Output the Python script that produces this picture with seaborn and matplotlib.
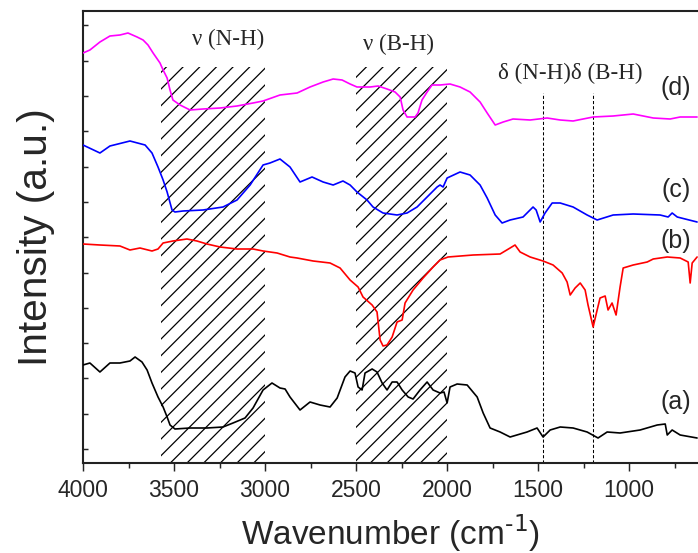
import numpy as np
import pandas as pd
import matplotlib
matplotlib.use("Agg")
import matplotlib.pyplot as plt
import seaborn as sns

# ---------------- data ----------------
wn_d = [4000, 3962, 3907, 3852, 3797, 3753, 3703, 3670, 3643, 3615, 3577, 3560, 3538, 3522, 3506,
        3467, 3412, 3341, 3247, 3154, 3066, 3011, 2918, 2824, 2753, 2681, 2626, 2577, 2533, 2495,
        2423, 2379, 2330, 2286, 2258, 2242, 2220, 2176, 2160, 2138, 2110, 2083, 2039, 1984, 1929,
        1874, 1819, 1780, 1736, 1692, 1638, 1544, 1451, 1379, 1308, 1198, 1088, 978, 868, 775, 720, 627]
int_d = [410, 413, 421, 427, 428, 430, 426, 423, 418, 410, 400, 393, 385, 373, 363,
         358, 353, 354, 355, 357, 360, 362, 368, 370, 376, 381, 384, 383, 379, 376,
         376, 377, 374, 371, 366, 353, 346, 346, 350, 363, 371, 378, 378, 379, 376,
         371, 361, 350, 338, 341, 344, 343, 345, 343, 342, 346, 347, 349, 345, 344, 346, 346]

wn_c = [4000, 3907, 3852, 3742, 3659, 3621, 3588, 3560, 3538, 3511, 3495, 3451, 3341, 3231, 3154,
        3082, 3011, 2973, 2918, 2863, 2808, 2742, 2681, 2626, 2572, 2533, 2495, 2440, 2407, 2352,
        2275, 2220, 2165, 2110, 2055, 2039, 2022, 2000, 1929, 1874, 1819, 1780, 1736, 1698, 1654,
        1583, 1528, 1511, 1489, 1462, 1423, 1379, 1308, 1231, 1176, 1088, 978, 830, 786, 764, 736, 627]
int_c = [318, 310, 317, 322, 318, 310, 296, 283, 271, 253, 251, 252, 253, 256, 263,
         278, 298, 300, 304, 296, 281, 286, 281, 278, 282, 278, 271, 263, 256, 250,
         248, 250, 256, 266, 276, 278, 276, 285, 291, 288, 278, 265, 248, 240, 243,
         246, 256, 253, 241, 250, 260, 260, 256, 248, 243, 248, 249, 248, 246, 250, 246, 241]

wn_b = [4000, 3907, 3797, 3742, 3687, 3621, 3588, 3560, 3506, 3429, 3374, 3319, 3247, 3154, 3066,
        3011, 2934, 2863, 2824, 2736, 2643, 2588, 2533, 2489, 2462, 2412, 2385, 2368, 2352, 2330,
        2302, 2275, 2247, 2231, 2187, 2132, 2077, 2039, 1995, 1857, 1709, 1654, 1627, 1599, 1544,
        1473, 1418, 1368, 1341, 1324, 1297, 1269, 1242, 1226, 1198, 1176, 1160, 1132, 1116, 1094,
        1072, 1050, 1033, 978, 901, 868, 791, 720, 676, 665, 654, 627]
int_b = [219, 218, 217, 213, 215, 212, 214, 220, 222, 224, 222, 219, 216, 214, 214,
         212, 210, 206, 205, 202, 200, 195, 183, 176, 166, 158, 151, 123, 117, 118,
         126, 141, 143, 160, 173, 185, 196, 203, 206, 208, 209, 215, 218, 211, 206,
         202, 198, 190, 181, 168, 175, 180, 173, 158, 136, 153, 165, 167, 153, 160,
         148, 176, 195, 198, 201, 204, 206, 205, 201, 180, 200, 206]

wn_a = [4000, 3962, 3907, 3852, 3797, 3742, 3714, 3676, 3648, 3621, 3588, 3560, 3538, 3522, 3495,
        3412, 3319, 3231, 3176, 3110, 3066, 3011, 2962, 2918, 2890, 2863, 2808, 2753, 2698, 2643,
        2604, 2561, 2533, 2506, 2489, 2467, 2451, 2412, 2385, 2357, 2330, 2302, 2275, 2247, 2214,
        2187, 2149, 2110, 2077, 2039, 2017, 2000, 1984, 1945, 1890, 1835, 1802, 1764, 1709, 1654,
        1561, 1506, 1473, 1434, 1379, 1308, 1231, 1171, 1121, 1050, 940, 846, 802, 791, 764, 720, 627]
int_a = [98, 100, 91, 100, 100, 102, 106, 101, 93, 80, 66, 56, 46, 38, 34,
         35, 35, 36, 40, 45, 55, 73, 80, 75, 74, 66, 53, 61, 58, 56,
         65, 86, 92, 90, 76, 73, 90, 94, 91, 80, 73, 81, 81, 73, 66,
         64, 73, 81, 73, 70, 71, 60, 76, 79, 78, 66, 50, 35, 31, 26,
         31, 35, 26, 33, 36, 35, 31, 25, 31, 30, 33, 38, 39, 28, 33, 28, 25]

series_labels = ["(a)", "(b)", "(c)", "(d)"]
series_colors = ["black", "red", "blue", "magenta"]
label_pos_wn = [742, 742, 742, 742]
label_pos_int = [61, 222, 273, 375]

hatch_ranges = [(3570, 3000), (2500, 2000)]
hatch_top = 396
band_labels = ["ν (N-H)", "ν (B-H)", "δ (N-H)δ (B-H)"]
band_label_wn = [3203, 2269, 1324]
band_label_int = [424, 419, 390]
dashed_wn = [1475, 1200]
dashed_top = 370

xticks = [4000, 3500, 3000, 2500, 2000, 1500, 1000]

# ---------------- figure ----------------
sns.set_style("ticks")
plt.rcParams["font.family"] = ["Liberation Sans", "DejaVu Sans"]
plt.rcParams["mathtext.default"] = "regular"
plt.rcParams["hatch.linewidth"] = 0.6

DPI = 150
fig = plt.figure(figsize=(698 / DPI, 553 / DPI), dpi=DPI)
ax = fig.add_axes([83 / 698, 90 / 553, 615 / 698, 452 / 553])

# hatched bands
for x0, x1 in hatch_ranges:
    ax.fill_between([x0, x1], [0, 0], [hatch_top, hatch_top], facecolor="none",
                    edgecolor="black", linewidth=0, hatch="///", zorder=1)

# dashed lines
for xv in dashed_wn:
    ax.plot([xv, xv], [0, dashed_top], color="black", linestyle=(0, (3, 2)),
            linewidth=0.5, zorder=1)

frames = []
for lab, w, v in zip(series_labels, [wn_a, wn_b, wn_c, wn_d], [int_a, int_b, int_c, int_d]):
    frames.append(pd.DataFrame({"wn": w, "I": v, "s": lab}))
df = pd.concat(frames, ignore_index=True)

sns.lineplot(data=df, x="wn", y="I", hue="s", palette=dict(zip(series_labels, series_colors)),
             estimator=None, sort=False, linewidth=0.8, legend=False, ax=ax, zorder=3)

for lab, xw, yi in zip(series_labels, label_pos_wn, label_pos_int):
    ax.text(xw, yi, lab, ha="center", va="center", fontsize=12)

serif = ["Liberation Serif", "DejaVu Serif"]
for lab, xw, yi in zip(band_labels, band_label_wn, band_label_int):
    ax.text(xw, yi, lab, ha="center", va="center", fontsize=11, family=serif)

ax.set_xlim(4000, 622)
ax.set_ylim(0, 452)
ax.set_xticks(xticks)
ax.set_xticklabels([str(t) for t in xticks], fontsize=11)
ax.set_xticks([3750, 3250, 2750, 2250, 1750, 1250, 750], minor=True)
ax.set_yticks(np.arange(14, 452, 35.3))
ax.set_yticklabels([])
ax.tick_params(axis="x", which="major", direction="out", length=3.8, width=0.7, pad=4)
ax.tick_params(axis="x", which="minor", direction="out", length=2.4, width=0.7)
ax.tick_params(axis="y", which="major", direction="in", length=2.2, width=0.7)

for sp in ["left", "bottom", "top"]:
    ax.spines[sp].set_linewidth(1.0)
    ax.spines[sp].set_color("#222222")
ax.spines["right"].set_visible(False)

ax.set_xlabel("Wavenumber (cm$^{\\text{-1}}$)", fontsize=16, labelpad=5)
ax.set_ylabel("Intensity (a.u.)", fontsize=19.5, labelpad=10)

fig.savefig("out.png", dpi=DPI)
